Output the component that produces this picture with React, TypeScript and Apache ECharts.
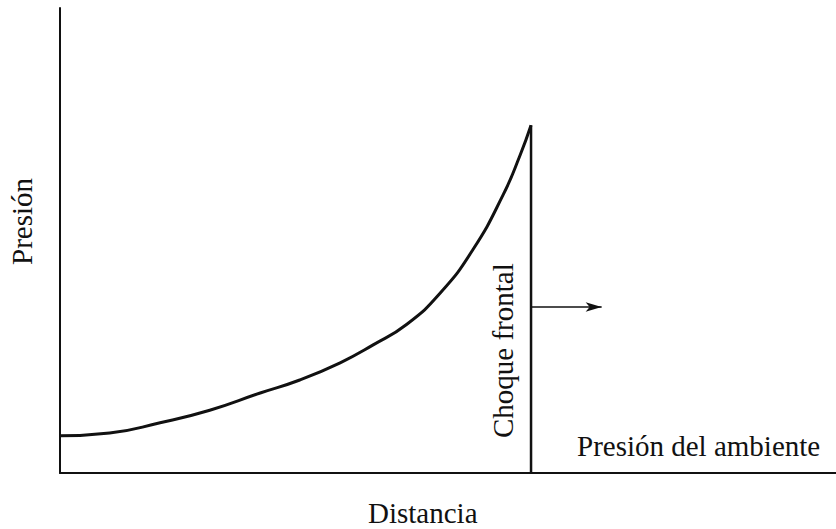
import React, { useEffect, useRef } from "react";
import * as echarts from "echarts";

// Curve: pressure behind the blast front (distance, pressure) in arbitrary units
const curveX = [0, 6.4, 12.9, 19.3, 25.8, 30.9, 36.1, 40.3, 44.7, 49.0, 53.2, 57.1, 59.3, 60.7];
const curveY = [8.0, 8.6, 10.8, 13.5, 17.2, 20.0, 23.7, 27.5, 32.0, 38.7, 48.0, 59.8, 68.4, 74.8];
// Shock front position and arrow (direction of travel)
const shockX = 60.7;
const shockTop = 74.8;
const arrowY = 35.7;
const arrowEndX = 69.8;

const axisTitleX = "Distancia";
const axisTitleY = "Presión";
const shockLabel = "Choque frontal";
const ambientLabel = "Presión del ambiente";

const FONT = '29px "Liberation Serif", "DejaVu Serif", serif';
const INK = "#111111";

export default function App() {
  const ref = useRef<HTMLDivElement>(null);
  useEffect(() => {
    document.body.style.margin = "0";
    const chart = echarts.init(ref.current!, undefined, { renderer: "svg" });
    const curve = curveX.map((x, i) => [x, curveY[i]]);
    chart.setOption({
      animation: false,
      backgroundColor: "#ffffff",
      grid: { left: 60, top: 8, right: 0, bottom: 56, containLabel: false },
      xAxis: {
        type: "value",
        min: 0,
        max: 100,
        axisLine: { show: true, lineStyle: { color: INK, width: 2 } },
        axisTick: { show: false },
        axisLabel: { show: false },
        splitLine: { show: false },
      },
      yAxis: {
        type: "value",
        min: 0,
        max: 100,
        axisLine: { show: true, lineStyle: { color: INK, width: 2 } },
        axisTick: { show: false },
        axisLabel: { show: false },
        splitLine: { show: false },
      },
      series: [
        {
          type: "line",
          data: curve,
          smooth: 0.5,
          showSymbol: false,
          lineStyle: { color: INK, width: 3 },
          z: 3,
        },
        {
          type: "line",
          data: [
            [shockX, 0],
            [shockX, shockTop],
          ],
          showSymbol: false,
          lineStyle: { color: INK, width: 2.5 },
          markLine: {
            silent: true,
            symbol: ["none", "arrow"],
            symbolSize: [7, 16],
            label: { show: false },
            lineStyle: { color: INK, width: 1.5, type: "solid" },
            data: [
              [
                { coord: [shockX, arrowY] },
                { coord: [arrowEndX, arrowY] },
              ],
            ],
          },
        },
      ],
      graphic: [
        {
          type: "text",
          x: 368,
          y: 513,
          style: { text: axisTitleX, font: FONT, fill: INK, textAlign: "left", textVerticalAlign: "middle" },
        },
        {
          type: "text",
          x: 22,
          y: 265,
          rotation: Math.PI / 2,
          style: { text: axisTitleY, font: FONT, fill: INK, textAlign: "left", textVerticalAlign: "middle" },
        },
        {
          type: "text",
          x: 503,
          y: 438,
          rotation: Math.PI / 2,
          style: { text: shockLabel, font: FONT, fill: INK, textAlign: "left", textVerticalAlign: "middle" },
        },
        {
          type: "text",
          x: 577,
          y: 446,
          style: { text: ambientLabel, font: FONT, fill: INK, textAlign: "left", textVerticalAlign: "middle" },
        },
      ],
    });
    return () => chart.dispose();
  }, []);
  return <div ref={ref} style={{ width: 836, height: 529 }} />;
}
